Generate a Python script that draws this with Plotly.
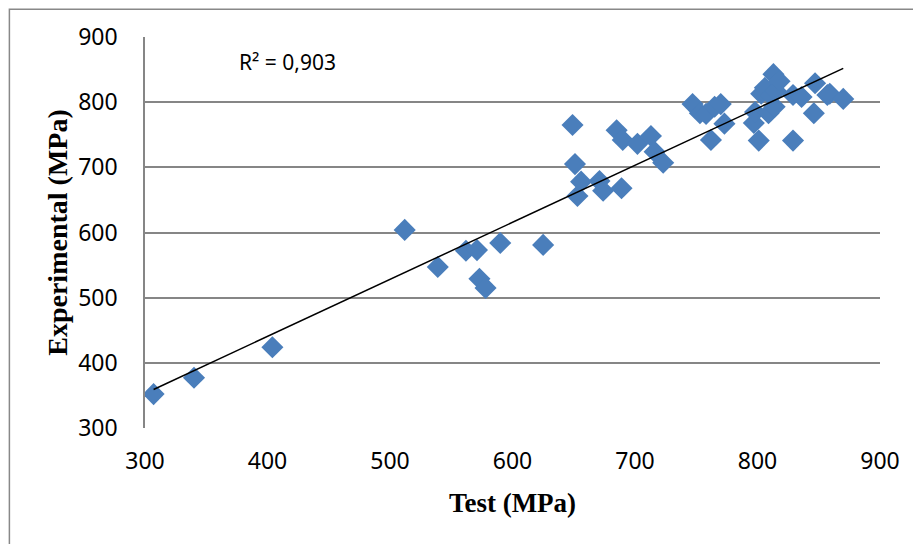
import numpy as np
import plotly.graph_objects as go

test = [307, 340, 404, 512, 539, 562, 571, 573, 578, 590, 625, 649, 651, 653, 656, 671, 674, 685, 689, 690,
        702, 713, 716, 723, 747, 753, 758, 762, 765, 770, 773, 797, 798, 801, 803, 806, 809, 811, 813, 814,
        815, 818, 829, 829, 836, 846, 847, 857, 859, 870]
experimental = [352, 377, 424, 604, 547, 572, 573, 529, 515, 584, 581, 765, 705, 656, 678, 679, 664, 757, 668, 742,
                736, 748, 724, 707, 797, 783, 782, 742, 793, 797, 767, 768, 785, 741, 813, 822, 783, 810, 843, 793,
                817, 832, 811, 741, 808, 783, 829, 811, 813, 805]
r2_label = "R² = 0,903"
x_ticks = [300, 400, 500, 600, 700, 800, 900]
y_ticks = [300, 400, 500, 600, 700, 800, 900]

slope, intercept = np.polyfit(test, experimental, 1)
xfit = np.array([min(test), max(test)])
yfit = slope * xfit + intercept

fig = go.Figure()
fig.add_trace(go.Scatter(x=test, y=experimental, mode="markers",
                         marker=dict(symbol="diamond", size=17, color="#4A7EBB",
                                     line=dict(width=0)),
                         showlegend=False))
fig.add_trace(go.Scatter(x=xfit, y=yfit, mode="lines",
                         line=dict(color="black", width=1.5), showlegend=False))

sans = "Noto Sans, Open Sans, Liberation Sans, sans-serif"
fig.add_annotation(x=0.125, y=0.936, xref="paper", yref="paper", text=r2_label,
                   showarrow=False, xanchor="left", yanchor="middle",
                   font=dict(family=sans, size=21, color="black"))

# outer chart border
fig.add_shape(type="rect", xref="paper", yref="paper", x0=-0.1845, x1=1.06, y0=-0.35, y1=1.071,
              line=dict(color="#888888", width=1.5), fillcolor="rgba(0,0,0,0)", layer="below")

tickfont = dict(family=sans, size=23, color="black")
serif = "Liberation Serif, Times New Roman, serif"

fig.update_xaxes(range=[300, 900], tickvals=x_ticks, showgrid=False, zeroline=False,
                 showline=False, ticks="", tickfont=tickfont, ticklabelstandoff=17,
                 title=dict(text="<b>Test (MPa)</b>", font=dict(family=serif, size=27, color="black"),
                            standoff=18))
fig.update_yaxes(range=[300, 900], tickvals=y_ticks, showgrid=True, gridcolor="#868686", gridwidth=1.5,
                 zeroline=False, showline=True, linecolor="#868686", linewidth=1.5, ticks="",
                 tickfont=tickfont, ticklabelstandoff=21,
                 title=dict(text="<b>Experimental (MPa)</b>", font=dict(family=serif, size=28, color="black"),
                            standoff=2))

# page body has an 8px margin, so shift margins to keep plot area at the reference position
fig.update_layout(width=921, height=544, margin=dict(l=137, r=49, t=29, b=124),
                  plot_bgcolor="white", paper_bgcolor="white")

fig.write_html("out.html")
